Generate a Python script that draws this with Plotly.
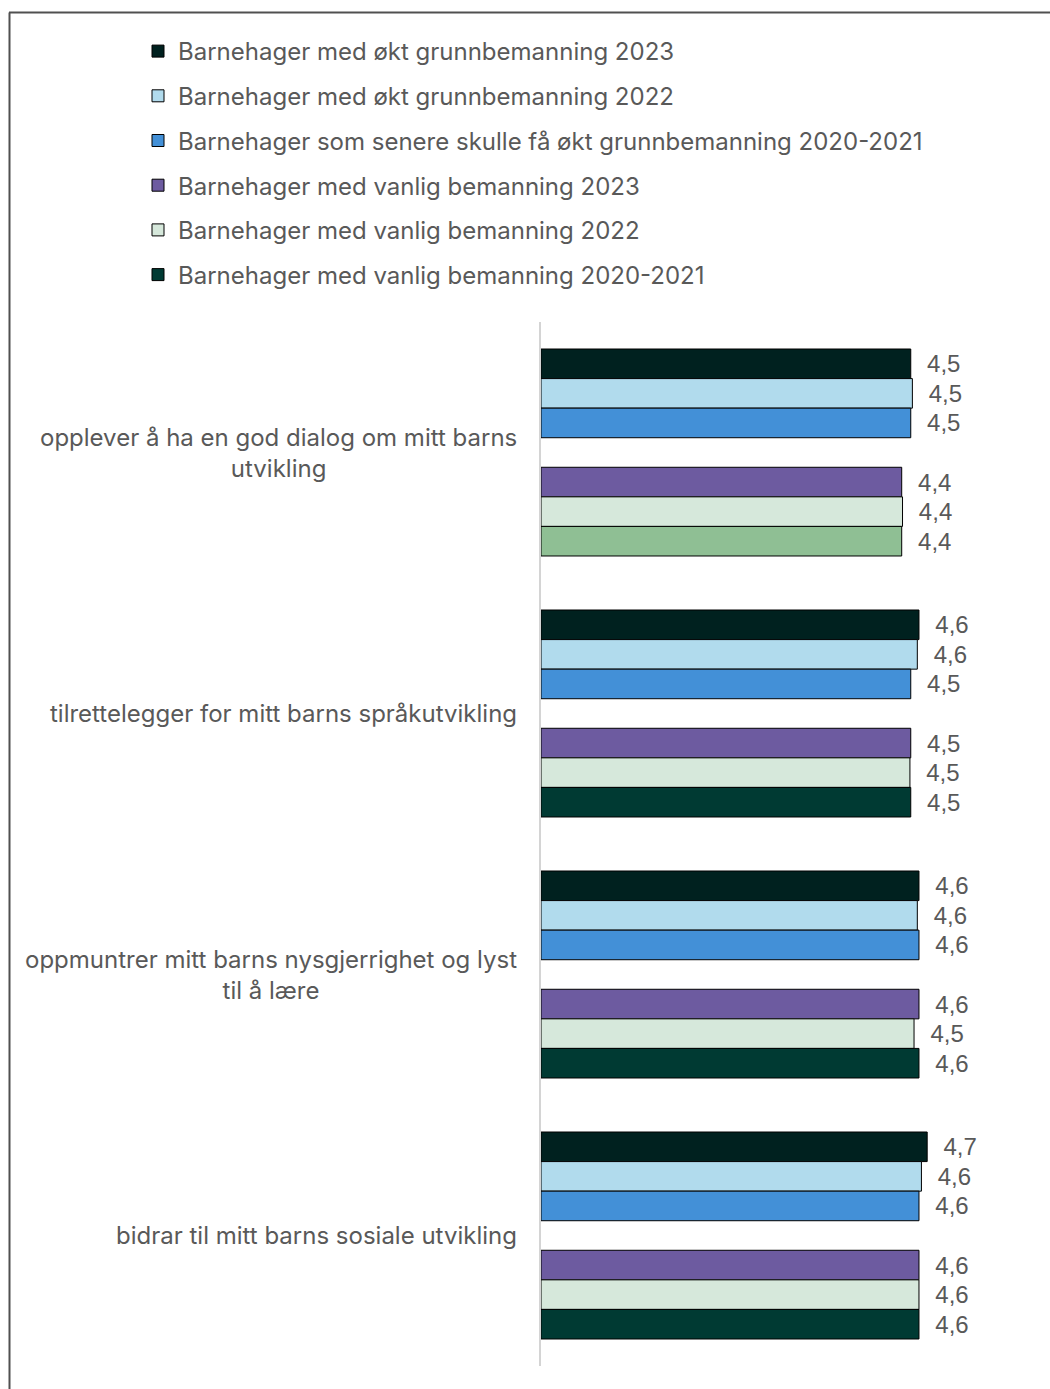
import plotly.graph_objects as go

# Survey statements (categories on the vertical axis)
categories = [
    "opplever å ha en god dialog om mitt barns<br>utvikling",
    "tilrettelegger for mitt barns språkutvikling",
    "oppmuntrer mitt barns nysgjerrighet og lyst<br>til å lære",
    "bidrar til mitt barns sosiale utvikling",
]

series_names = [
    "Barnehager med økt grunnbemanning 2023",
    "Barnehager med økt grunnbemanning 2022",
    "Barnehager som senere skulle få økt grunnbemanning 2020-2021",
    "Barnehager med vanlig bemanning 2023",
    "Barnehager med vanlig bemanning 2022",
    "Barnehager med vanlig bemanning 2020-2021",
]

# Mean scores per series, one value per statement
okt_2023 = [4.50, 4.60, 4.60, 4.70]
okt_2022 = [4.52, 4.58, 4.58, 4.63]
okt_2020_2021 = [4.50, 4.50, 4.60, 4.60]
vanlig_2023 = [4.39, 4.50, 4.60, 4.60]
vanlig_2022 = [4.40, 4.49, 4.54, 4.60]
vanlig_2020_2021 = [4.39, 4.50, 4.60, 4.60]

series_values = [okt_2023, okt_2022, okt_2020_2021, vanlig_2023, vanlig_2022, vanlig_2020_2021]

series_colors = [
    "#00211f",
    "#b1dbed",
    "#4390d7",
    "#6d5ba0",
    "#d6e8db",
    ["#8fbf94", "#003a33", "#003a33", "#003a33"],
]
legend_colors = ["#00211f", "#b1dbed", "#4390d7", "#6d5ba0", "#d6e8db", "#003a33"]

TEXT_COLOR = "#595959"
NBSP = "\u00a0"

fig = go.Figure()


def add_series(i, show_legend=True):
    fig.add_trace(go.Bar(
        y=categories,
        x=series_values[i],
        name=series_names[i],
        orientation="h",
        marker=dict(color=series_colors[i], line=dict(color="#000000", width=1)),
        texttemplate=NBSP * 2 + "%{x:.1f}",
        textposition="outside",
        constraintext="none",
        cliponaxis=False,
        textfont=dict(family="Liberation Sans, Arial, sans-serif", size=24, color=TEXT_COLOR),
        legendgroup=f"g{i}",
        showlegend=show_legend,
        hoverinfo="x+name",
    ))


for i in range(3):
    add_series(i)

# empty slot that separates the two kindergarten types inside each group
fig.add_trace(go.Bar(
    y=categories,
    x=[None] * len(categories),
    orientation="h",
    showlegend=False,
    hoverinfo="skip",
    marker=dict(color="rgba(0,0,0,0)"),
))

for i in range(3, 5):
    add_series(i)
add_series(5, show_legend=False)

# Legend entry for the last series, kept on a hidden overlay axis so it
# does not take a slot in the bar groups
fig.add_trace(go.Bar(
    y=[categories[0]], x=[None], orientation="h",
    name=series_names[5],
    marker=dict(color=legend_colors[5], line=dict(color="#000000", width=1)),
    legendgroup="g5",
    showlegend=True,
    hoverinfo="skip",
    yaxis="y2",
))

L, R, T, B = 541, 16, 322, 23
W, H = 1050, 1389
pw, ph = W - L - R, H - T - B


def px_x(p):
    return (p - L) / pw


def px_y(q):
    return (H - B - q) / ph


LABEL_FONT = dict(family="Inter, sans-serif", size=24, color=TEXT_COLOR)

# Category labels: right-aligned block, lines centred within it
annotations = [
    dict(
        x=0, xref="paper", y=c, yref="y",
        text=c, showarrow=False,
        xanchor="right", yanchor="middle", align="center",
        xshift=-22,
        font=LABEL_FONT,
    )
    for c in categories
]

shapes = [
    dict(type="line", xref="paper", yref="paper",
         x0=px_x(9), x1=px_x(1050), y0=px_y(12.5), y1=px_y(12.5),
         line=dict(color="#505050", width=2)),
    dict(type="line", xref="paper", yref="paper",
         x0=px_x(9.5), x1=px_x(9.5), y0=px_y(12.5), y1=px_y(1389),
         line=dict(color="#505050", width=2)),
]

fig.update_layout(
    width=W, height=H,
    margin=dict(l=L, r=R, t=T, b=B, autoexpand=False),
    paper_bgcolor="white", plot_bgcolor="white",
    barmode="group", bargap=0.207, bargroupgap=0,
    separators=", ",
    font=dict(family="Inter, sans-serif", color=TEXT_COLOR),
    xaxis=dict(visible=False, range=[0, 6]),
    yaxis=dict(
        autorange="reversed",
        showticklabels=False, ticks="",
        showline=True, linecolor="#d4d4d4", linewidth=2,
        showgrid=False, zeroline=False,
    ),
    yaxis2=dict(overlaying="y", visible=False, matches="y"),
    legend=dict(
        xref="container", yref="container",
        x=138 / W, y=1 - 29 / H, xanchor="left", yanchor="top",
        font=dict(family="Inter, sans-serif", size=24, color=TEXT_COLOR),
        tracegroupgap=10.5,
        itemwidth=30,
        bgcolor="rgba(0,0,0,0)",
    ),
    annotations=annotations,
    shapes=shapes,
    showlegend=True,
)

fig.write_html("out.html")
